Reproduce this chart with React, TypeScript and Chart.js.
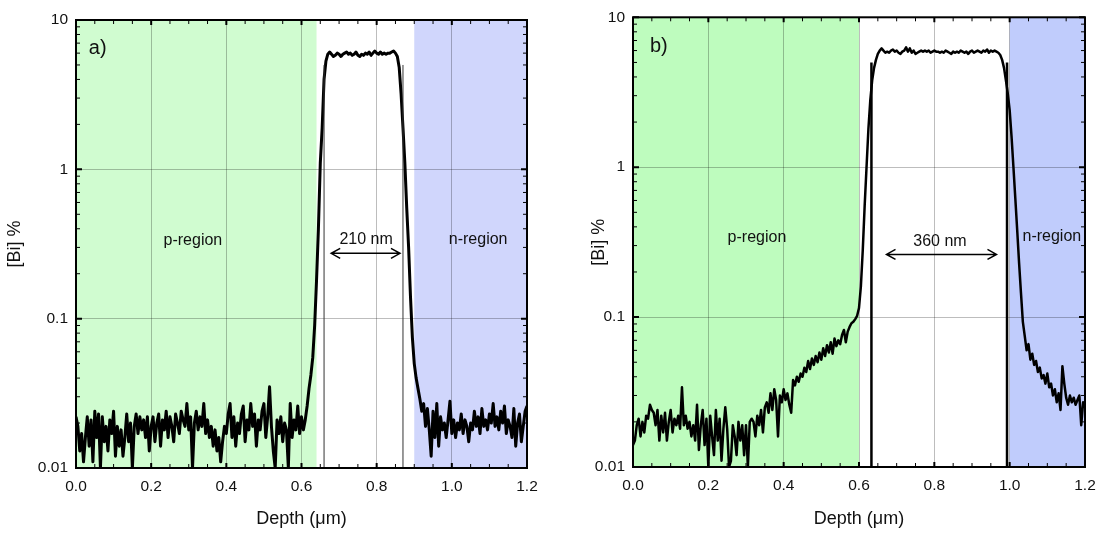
import React, { useEffect, useRef } from "react";
import { Chart, registerables } from "chart.js";

Chart.register(...registerables);

// ---------- data ----------
const DEPTH = [
  0, 0.005, 0.01, 0.015, 0.02, 0.025, 0.03, 0.035, 0.04, 0.045, 0.05, 0.055, 0.06, 0.065, 0.07, 0.075, 0.08, 0.085, 0.09, 0.095,
  0.1, 0.105, 0.11, 0.115, 0.12, 0.125, 0.13, 0.135, 0.14, 0.145, 0.15, 0.155, 0.16, 0.165, 0.17, 0.175, 0.18, 0.185, 0.19, 0.195,
  0.2, 0.205, 0.21, 0.215, 0.22, 0.225, 0.23, 0.235, 0.24, 0.245, 0.25, 0.255, 0.26, 0.265, 0.27, 0.275, 0.28, 0.285, 0.29, 0.295,
  0.3, 0.305, 0.31, 0.315, 0.32, 0.325, 0.33, 0.335, 0.34, 0.345, 0.35, 0.355, 0.36, 0.365, 0.37, 0.375, 0.38, 0.385, 0.39, 0.395,
  0.4, 0.405, 0.41, 0.415, 0.42, 0.425, 0.43, 0.435, 0.44, 0.445, 0.45, 0.455, 0.46, 0.465, 0.47, 0.475, 0.48, 0.485, 0.49, 0.495,
  0.5, 0.505, 0.51, 0.515, 0.52, 0.525, 0.53, 0.535, 0.54, 0.545, 0.55, 0.555, 0.56, 0.565, 0.57, 0.575, 0.58, 0.585, 0.59, 0.595,
  0.6, 0.605, 0.61, 0.615, 0.62, 0.625, 0.63, 0.635, 0.64, 0.645, 0.65, 0.655, 0.66, 0.665, 0.67, 0.675, 0.68, 0.685, 0.69, 0.695,
  0.7, 0.705, 0.71, 0.715, 0.72, 0.725, 0.73, 0.735, 0.74, 0.745, 0.75, 0.755, 0.76, 0.765, 0.77, 0.775, 0.78, 0.785, 0.79, 0.795,
  0.8, 0.805, 0.81, 0.815, 0.82, 0.825, 0.83, 0.835, 0.84, 0.845, 0.85, 0.855, 0.86, 0.865, 0.87, 0.875, 0.88, 0.885, 0.89, 0.895,
  0.9, 0.905, 0.91, 0.915, 0.92, 0.925, 0.93, 0.935, 0.94, 0.945, 0.95, 0.955, 0.96, 0.965, 0.97, 0.975, 0.98, 0.985, 0.99, 0.995,
  1.0, 1.005, 1.01, 1.015, 1.02, 1.025, 1.03, 1.035, 1.04, 1.045, 1.05, 1.055, 1.06, 1.065, 1.07, 1.075, 1.08, 1.085, 1.09, 1.095,
  1.1, 1.105, 1.11, 1.115, 1.12, 1.125, 1.13, 1.135, 1.14, 1.145, 1.15, 1.155, 1.16, 1.165, 1.17, 1.175, 1.18, 1.185, 1.19, 1.195,
  1.2,
];

const BI_A = [
  0.022, 0.019, 0.013, 0.017, 0.011, 0.016, 0.022, 0.014, 0.021, 0.011, 0.024, 0.016, 0.023, 0.010, 0.022, 0.015, 0.019, 0.013, 0.021, 0.017,
  0.024, 0.012, 0.019, 0.014, 0.018, 0.012, 0.016, 0.023, 0.015, 0.020, 0.010, 0.019, 0.023, 0.017, 0.022, 0.018, 0.021, 0.016, 0.022, 0.013,
  0.019, 0.022, 0.015, 0.020, 0.023, 0.014, 0.021, 0.018, 0.024, 0.016, 0.022, 0.019, 0.015, 0.023, 0.020, 0.017, 0.024, 0.021, 0.019, 0.027,
  0.018, 0.022, 0.010, 0.020, 0.024, 0.018, 0.022, 0.019, 0.027, 0.017, 0.021, 0.016, 0.019, 0.014, 0.018, 0.013, 0.016, 0.011, 0.015, 0.019,
  0.017, 0.023, 0.027, 0.016, 0.022, 0.014, 0.020, 0.017, 0.023, 0.026, 0.015, 0.021, 0.018, 0.027, 0.019, 0.023, 0.014, 0.021, 0.018, 0.024,
  0.027, 0.016, 0.022, 0.035, 0.019, 0.013, 0.010, 0.021, 0.017, 0.022, 0.015, 0.020, 0.018, 0.010, 0.027, 0.016, 0.021, 0.018, 0.026, 0.017,
  0.022, 0.018, 0.021, 0.026, 0.034, 0.042, 0.055, 0.09, 0.18, 0.40, 1.1, 1.9, 4.0, 5.3, 5.9, 6.1, 5.9, 5.7, 5.8, 6.0,
  5.9, 5.7, 5.9, 6.0, 6.1, 5.9, 6.0, 5.8, 5.9, 6.1, 5.8, 5.7, 5.9, 5.8, 6.0, 5.9, 6.1, 5.8, 6.0, 6.2,
  6.0, 5.9, 6.1, 5.9, 6.0, 5.9, 6.0, 6.0, 6.1, 6.2, 6.0, 5.7, 4.8, 3.2, 1.9, 1.1, 0.55, 0.30, 0.14, 0.075,
  0.050, 0.040, 0.034, 0.029, 0.024, 0.027, 0.019, 0.025, 0.018, 0.012, 0.024, 0.016, 0.027, 0.014, 0.022, 0.018, 0.020, 0.016, 0.021, 0.028,
  0.017, 0.021, 0.016, 0.020, 0.018, 0.023, 0.017, 0.021, 0.019, 0.015, 0.020, 0.018, 0.024, 0.019, 0.022, 0.017, 0.025, 0.019, 0.021, 0.018,
  0.023, 0.020, 0.027, 0.019, 0.022, 0.018, 0.024, 0.020, 0.026, 0.017, 0.021, 0.019, 0.016, 0.025, 0.014, 0.020, 0.023, 0.015, 0.019, 0.024,
  0.026,
];

const BI_B = [
  0.014, 0.015, 0.019, 0.021, 0.016, 0.020, 0.017, 0.022, 0.021, 0.026, 0.024, 0.023, 0.019, 0.024, 0.015, 0.022, 0.017, 0.023, 0.015, 0.020,
  0.024, 0.017, 0.021, 0.019, 0.022, 0.018, 0.034, 0.019, 0.022, 0.018, 0.020, 0.016, 0.019, 0.015, 0.026, 0.013, 0.019, 0.024, 0.014, 0.021,
  0.010, 0.022, 0.016, 0.012, 0.024, 0.015, 0.021, 0.011, 0.018, 0.025, 0.018, 0.010, 0.011, 0.019, 0.016, 0.012, 0.020, 0.015, 0.019, 0.012,
  0.019, 0.010, 0.020, 0.021, 0.020, 0.016, 0.022, 0.019, 0.024, 0.017, 0.025, 0.027, 0.023, 0.031, 0.024, 0.033, 0.028, 0.016, 0.030, 0.027,
  0.033, 0.028, 0.031, 0.026, 0.023, 0.038, 0.035, 0.040, 0.037, 0.042, 0.040, 0.046, 0.043, 0.051, 0.045, 0.053, 0.048, 0.055, 0.050, 0.058,
  0.052, 0.062, 0.055, 0.065, 0.058, 0.068, 0.057, 0.072, 0.064, 0.070, 0.066, 0.076, 0.082, 0.068, 0.080, 0.086, 0.091, 0.093, 0.097, 0.102,
  0.115, 0.16, 0.28, 0.55, 1.0, 1.8, 2.8, 3.8, 4.6, 5.2, 5.7, 6.0, 6.2, 6.0, 5.8, 5.9, 5.8, 6.0, 6.1, 5.9,
  6.0, 5.8, 5.7, 5.9, 6.0, 6.3, 5.9, 6.2, 5.8, 6.0, 5.7, 5.8, 5.9, 6.0, 5.9, 6.0, 5.9, 6.0, 5.8, 5.9,
  6.0, 5.9, 5.9, 5.8, 5.9, 5.8, 6.0, 5.9, 5.8, 5.7, 5.9, 5.8, 5.9, 5.8, 6.0, 5.9, 5.8, 5.9, 5.7, 5.9,
  6.0, 5.8, 5.9, 6.0, 5.9, 5.8, 6.0, 5.9, 6.1, 5.8, 6.0, 5.9, 6.0, 5.9, 5.8, 5.6, 5.2, 4.6, 3.8, 3.1,
  2.4, 1.6, 1.0, 0.62, 0.38, 0.23, 0.145, 0.093, 0.075, 0.060, 0.066, 0.052, 0.057, 0.048, 0.051, 0.043, 0.046, 0.039, 0.041, 0.036,
  0.042, 0.034, 0.036, 0.030, 0.033, 0.027, 0.031, 0.024, 0.047, 0.036, 0.029, 0.026, 0.030, 0.027, 0.029, 0.026, 0.028, 0.030, 0.019, 0.027,
  0.025,
];

const X_TICKS = [0, 0.2, 0.4, 0.6, 0.8, 1.0, 1.2];
const X_TICK_LABELS = ["0.0", "0.2", "0.4", "0.6", "0.8", "1.0", "1.2"];
const X_MINOR = [0.05, 0.1, 0.15, 0.25, 0.3, 0.35, 0.45, 0.5, 0.55, 0.65, 0.7, 0.75, 0.85, 0.9, 0.95, 1.05, 1.1, 1.15];
const Y_TICKS = [0.01, 0.1, 1, 10];
const Y_TICK_LABELS = ["0.01", "0.1", "1", "10"];
const Y_MINOR = [0.02, 0.03, 0.04, 0.05, 0.06, 0.07, 0.08, 0.09, 0.2, 0.3, 0.4, 0.5, 0.6, 0.7, 0.8, 0.9, 2, 3, 4, 5, 6, 7, 8, 9];

// region bounds (depth, µm)
const P_REGION_A = [0, 0.64];
const N_REGION_A = [0.9, 1.2];
const P_REGION_B = [0, 0.6];
const N_REGION_B = [1.0, 1.2];
// junction marker lines and their top value
const MARKERS_A = [0.66, 0.87];
const MARKERS_B = [0.633, 0.993];
const MARKER_TOP = 5;
// width arrows [from, to, level]
const ARROW_A = [0.679, 0.862, 0.274];
const ARROW_B = [0.673, 0.965, 0.262];

const FONT = '"Liberation Sans", Arial, sans-serif';

type Label = { text: string; x: number; y: number; size: number; align: CanvasTextAlign };

type PanelCfg = {
  tag: string;
  left: number;
  width: number;
  data: number[];
  pRegion: number[];
  nRegion: number[];
  pColor: string;
  nColor: string;
  markers: number[];
  markerColor: string;
  markerWidth: number;
  lineWidth: number;
  arrow: number[];
  labels: Label[];
  padTop: number;
  padRight: number;
  yWidth: number;
  xHeight: number;
  yTitlePad: number;
};

const PANELS: PanelCfg[] = [
  {
    tag: "a",
    left: 0,
    width: 553,
    data: BI_A,
    pRegion: P_REGION_A,
    nRegion: N_REGION_A,
    pColor: "rgb(208,252,208)",
    nColor: "rgb(208,214,252)",
    markers: MARKERS_A,
    markerColor: "#333",
    markerWidth: 1,
    lineWidth: 3,
    arrow: ARROW_A,
    labels: [
      { text: "a)", x: 0.034, y: 6.4, size: 20, align: "left" },
      { text: "p-region", x: 0.311, y: 0.335, size: 16, align: "center" },
      { text: "210 nm", x: 0.772, y: 0.34, size: 16, align: "center" },
      { text: "n-region", x: 1.07, y: 0.34, size: 16, align: "center" },
    ],
    padTop: 20,
    padRight: 26,
    yWidth: 76,
    xHeight: 66,
    yTitlePad: 4,
  },
  {
    tag: "b",
    left: 553,
    width: 553,
    data: BI_B,
    pRegion: P_REGION_B,
    nRegion: N_REGION_B,
    pColor: "rgb(190,252,190)",
    nColor: "rgb(192,204,252)",
    markers: MARKERS_B,
    markerColor: "#000",
    markerWidth: 2.5,
    lineWidth: 2.5,
    arrow: ARROW_B,
    labels: [
      { text: "b)", x: 0.045, y: 6.4, size: 20, align: "left" },
      { text: "p-region", x: 0.329, y: 0.34, size: 16, align: "center" },
      { text: "360 nm", x: 0.815, y: 0.32, size: 16, align: "center" },
      { text: "n-region", x: 1.112, y: 0.346, size: 16, align: "center" },
    ],
    padTop: 16,
    padRight: 21,
    yWidth: 80,
    xHeight: 67,
    yTitlePad: 35,
  },
];

function makePlugin(p: PanelCfg) {
  return {
    id: "deco_" + p.tag,
    beforeDraw(chart: any) {
      const { ctx, chartArea: a, scales } = chart;
      const x = scales.x;
      ctx.save();
      const regs = [
        [p.pRegion, p.pColor],
        [p.nRegion, p.nColor],
      ] as [number[], string][];
      for (const [r, c] of regs) {
        const x0 = x.getPixelForValue(r[0]);
        const x1 = x.getPixelForValue(r[1]);
        ctx.fillStyle = c;
        ctx.fillRect(x0, a.top, x1 - x0, a.bottom - a.top);
      }
      ctx.restore();
    },
    afterDraw(chart: any) {
      const { ctx, chartArea: a, scales } = chart;
      const x = scales.x;
      const y = scales.y;
      ctx.save();
      // frame
      ctx.strokeStyle = "#000";
      ctx.lineWidth = 2;
      ctx.strokeRect(a.left, a.top, a.right - a.left, a.bottom - a.top);
      // x ticks (inward, top and bottom)
      const xt = (vals: number[], len: number, w: number) => {
        ctx.lineWidth = w;
        ctx.beginPath();
        for (const v of vals) {
          const px = x.getPixelForValue(v);
          ctx.moveTo(px, a.bottom);
          ctx.lineTo(px, a.bottom - len);
          ctx.moveTo(px, a.top);
          ctx.lineTo(px, a.top + len);
        }
        ctx.stroke();
      };
      xt(X_MINOR, 4, 1);
      xt(X_TICKS, 5, 2);
      const yt = (vals: number[], len: number, w: number) => {
        ctx.lineWidth = w;
        ctx.beginPath();
        for (const v of vals) {
          const py = y.getPixelForValue(v);
          ctx.moveTo(a.left, py);
          ctx.lineTo(a.left + len, py);
          ctx.moveTo(a.right, py);
          ctx.lineTo(a.right - len, py);
        }
        ctx.stroke();
      };
      yt(Y_MINOR, 4, 1);
      yt(Y_TICKS, 6, 2);
      // arrow
      const ax0 = x.getPixelForValue(p.arrow[0]);
      const ax1 = x.getPixelForValue(p.arrow[1]);
      const ay = y.getPixelForValue(p.arrow[2]);
      ctx.lineWidth = 1.5;
      ctx.beginPath();
      ctx.moveTo(ax0, ay);
      ctx.lineTo(ax1, ay);
      ctx.moveTo(ax0 + 9, ay - 5);
      ctx.lineTo(ax0, ay);
      ctx.lineTo(ax0 + 9, ay + 5);
      ctx.moveTo(ax1 - 9, ay - 5);
      ctx.lineTo(ax1, ay);
      ctx.lineTo(ax1 - 9, ay + 5);
      ctx.stroke();
      // labels
      ctx.fillStyle = "#111";
      ctx.textBaseline = "middle";
      for (const l of p.labels) {
        ctx.font = `${l.size}px ${FONT}`;
        ctx.textAlign = l.align;
        ctx.fillText(l.text, x.getPixelForValue(l.x), y.getPixelForValue(l.y));
      }
      ctx.restore();
    },
  };
}

function Panel({ p }: { p: PanelCfg }) {
  const ref = useRef<HTMLCanvasElement>(null);
  useEffect(() => {
    if (!ref.current) return;
    const curve = DEPTH.map((d, i) => ({ x: d, y: p.data[i] }));
    const markerSets = p.markers.map((m) => ({
      data: [
        { x: m, y: Y_TICKS[0] },
        { x: m, y: MARKER_TOP },
      ],
      borderColor: p.markerColor,
      borderWidth: p.markerWidth,
      pointRadius: 0,
      fill: false,
    }));
    const chart = new Chart(ref.current, {
      type: "line",
      data: {
        datasets: [
          ...markerSets,
          {
            data: curve,
            borderColor: "#000",
            borderWidth: p.lineWidth,
            pointRadius: 0,
            tension: 0,
            fill: false,
            borderJoinStyle: "round",
          },
        ],
      },
      options: {
        responsive: false,
        animation: false,
        events: [],
        layout: { padding: { left: 0, right: p.padRight, top: p.padTop, bottom: 0 } },
        plugins: { legend: { display: false }, tooltip: { enabled: false } },
        scales: {
          x: {
            type: "linear",
            min: 0,
            max: 1.2,
            afterBuildTicks: (s: any) => {
              s.ticks = X_TICKS.map((v) => ({ value: v }));
            },
            afterFit: (s: any) => {
              s.height = p.xHeight;
            },
            ticks: {
              autoSkip: false,
              maxRotation: 0,
              padding: 9,
              color: "#111",
              font: { family: FONT, size: 15.5 },
              callback: (_v: any, i: number) => X_TICK_LABELS[i],
            },
            grid: { color: "rgba(0,0,0,0.26)", lineWidth: 1, drawTicks: false },
            border: { display: false },
            title: {
              display: true,
              text: "Depth (μm)",
              color: "#111",
              font: { family: FONT, size: 18 },
              padding: { top: 0, bottom: 4 },
            },
          },
          y: {
            type: "logarithmic",
            min: 0.01,
            max: 10,
            afterBuildTicks: (s: any) => {
              s.ticks = Y_TICKS.map((v) => ({ value: v }));
            },
            afterFit: (s: any) => {
              s.width = p.yWidth;
            },
            ticks: {
              autoSkip: false,
              padding: 8,
              color: "#111",
              font: { family: FONT, size: 15.5 },
              callback: (_v: any, i: number) => Y_TICK_LABELS[i],
            },
            grid: { color: "rgba(0,0,0,0.26)", lineWidth: 1, drawTicks: false },
            border: { display: false },
            title: {
              display: true,
              text: "[Bi] %",
              color: "#111",
              font: { family: FONT, size: 18 },
              padding: { top: p.yTitlePad, bottom: 0 },
            },
          },
        },
      } as any,
      plugins: [makePlugin(p)],
    });
    return () => chart.destroy();
  }, [p]);
  return (
    <canvas
      ref={ref}
      width={p.width}
      height={534}
      style={{ position: "absolute", left: p.left, top: 0, width: p.width, height: 534, display: "block" }}
    />
  );
}

export default function App() {
  return (
    <div style={{ position: "absolute", left: 0, top: 0, width: 1106, height: 534, background: "#fff" }}>
      {PANELS.map((p) => (
        <Panel key={p.tag} p={p} />
      ))}
    </div>
  );
}
